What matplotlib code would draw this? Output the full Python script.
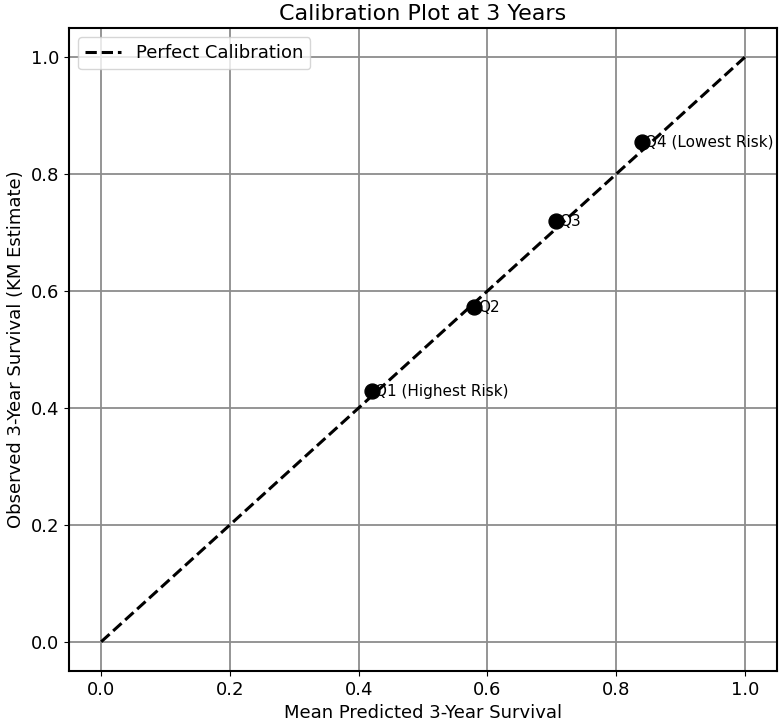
import matplotlib
matplotlib.use("Agg")
import matplotlib.pyplot as plt

# Data
quartile_labels = ["Q1 (Highest Risk)", "Q2", "Q3", "Q4 (Lowest Risk)"]
mean_predicted = [0.421, 0.580, 0.707, 0.840]
observed_km = [0.429, 0.572, 0.719, 0.855]

fig = plt.figure(figsize=(7.8, 7.23), dpi=100)
ax = fig.add_axes([69 / 780, 52 / 723, 708 / 780, 643 / 723])

# Diagonale de reference
ax.plot([0, 1], [0, 1], "k--", linewidth=2.2, label="Perfect Calibration")
ax.scatter(mean_predicted, observed_km, color="black", s=115, zorder=3)
for x, y, lab in zip(mean_predicted, observed_km, quartile_labels):
    ax.text(x + 0.005, y, lab, fontsize=11, va="center", ha="left")

ax.set_xlim(-0.05, 1.05)
ax.set_ylim(-0.05, 1.05)
ax.set_xlabel("Mean Predicted 3-Year Survival", fontsize=13)
ax.set_ylabel("Observed 3-Year Survival (KM Estimate)", fontsize=13)
ax.set_title("Calibration Plot at 3 Years", fontsize=16)
ax.tick_params(labelsize=13)
ax.grid(True, color="#8c8c8c", linewidth=1.3)
ax.legend(loc="upper left", fontsize=13)
for s in ax.spines.values():
    s.set_linewidth(1.5)

fig.savefig("out.png", dpi=100)
